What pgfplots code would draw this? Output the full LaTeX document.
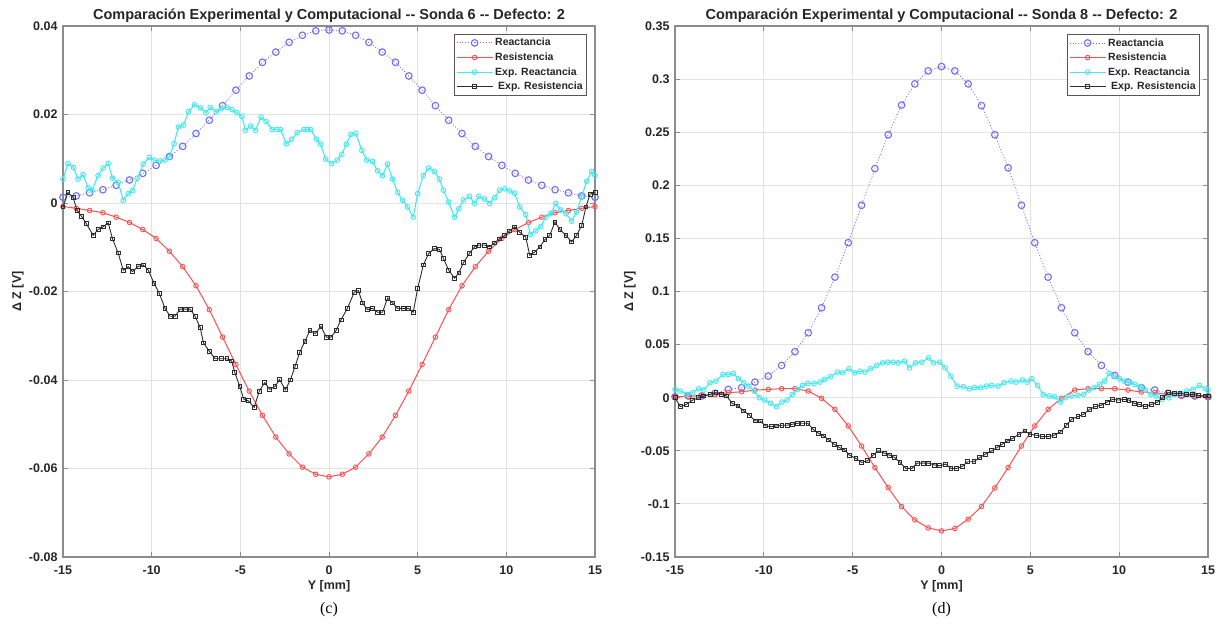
\documentclass[border=0pt]{standalone}
\usepackage{fontspec}
\setmainfont{Liberation Sans}
\newfontfamily\capfont{Liberation Serif}
\usepackage{pgfplots}
\pgfplotsset{compat=1.18}

\definecolor{creact}{RGB}{110,110,250}
\definecolor{cres}{RGB}{250,80,80}
\definecolor{cexpx}{RGB}{70,232,240}
\definecolor{cexpr}{RGB}{45,45,45}
\definecolor{cframe}{RGB}{140,140,140}
\definecolor{cgrid}{RGB}{226,226,226}
\definecolor{ctext}{RGB}{38,38,38}

\pgfplotsset{
  panel/.style={
    scale only axis, width=532pt, height=531pt, anchor=south west,
    clip mode=individual,
    xmin=-15, xmax=15, xtick={-15,-10,...,15},
    scaled y ticks=false,
    grid=major, major grid style={cgrid, line width=0.8pt},
    axis line style={cframe, line width=1.3pt},
    tick style={cframe, line width=0.8pt}, major tick length=5pt, tick align=inside,
    /pgf/number format/assume math mode=true,
    tick label style={font=\bfseries\fontsize{12.5}{15}\selectfont, text=ctext},
    xticklabel style={yshift=-5pt},
    yticklabel style={xshift=-2pt, /pgf/number format/fixed, /pgf/number format/precision=2},
    title style={at={(axis description cs:0.5,1)}, anchor=base, yshift=0pt,
      font=\bfseries\fontsize{14.5}{16}\selectfont, text=ctext},
    xlabel style={at={(axis description cs:0.5,0)}, anchor=center, yshift=-29pt,
      font=\bfseries\fontsize{12.5}{15}\selectfont, text=ctext},
    ylabel style={at={([xshift=-45pt]axis description cs:0,0.5)}, anchor=center,
      font=\bfseries\fontsize{12.5}{15}\selectfont, text=ctext},
    xlabel={Y [mm]}, ylabel={Δ Z [V]},
    legend style={at={(axis description cs:1,1)}, anchor=north east,
      xshift=-8pt, yshift=-8pt, draw=cexpr!80, line width=0.8pt, fill=white,
      font=\bfseries\fontsize{10.5}{12}\selectfont, text=ctext,
      inner sep=2pt, row sep=1.5pt, cells={anchor=west}},
    legend image code/.code={\draw[mark repeat=2,mark phase=2]
      plot coordinates {(0pt,0pt) (18pt,0pt) (36pt,0pt)};},
  },
  react/.style={creact, dotted, line width=0.9pt, mark=o, mark size=3.3pt,
    mark options={solid, line width=1.1pt}},
  res/.style={cres, solid, line width=1pt, mark=o, mark size=2.3pt,
    mark options={line width=0.9pt}},
  expx/.style={cexpx, solid, line width=1.1pt, mark=o, mark size=2.4pt,
    mark options={line width=0.9pt}},
  expr/.style={cexpr, solid, line width=0.9pt, mark=square, mark size=1.9pt,
    mark options={line width=0.8pt}},
}

\begin{document}
\begin{tikzpicture}
\path[use as bounding box] (0,0) rectangle (1219pt,627pt);

% ---------------- Sonda 6 ----------------
\begin{axis}[panel, at={(63pt,70pt)},
  ymin=-0.08, ymax=0.04, ytick={-0.08,-0.06,...,0.041},
  title={Comparación Experimental y Computacional -{}- Sonda 6 -{}- Defecto: 2}]
\addplot[react] coordinates {
(-15,0.0013)(-14.25,0.0016)(-13.5,0.0023)(-12.75,0.0030)(-12,0.0040)(-11.25,0.0052)
(-10.5,0.0067)(-9.75,0.0085)(-9,0.0105)(-8.25,0.0128)(-7.5,0.0157)(-6.75,0.0187)
(-6,0.0220)(-5.25,0.0255)(-4.5,0.0287)(-3.75,0.0318)(-3,0.0341)(-2.25,0.0363)
(-1.5,0.0379)(-0.75,0.0389)(0,0.0391)(0.75,0.0389)(1.5,0.0379)(2.25,0.0363)
(3,0.0341)(3.75,0.0318)(4.5,0.0287)(5.25,0.0255)(6,0.0220)(6.75,0.0187)
(7.5,0.0157)(8.25,0.0128)(9,0.0105)(9.75,0.0085)(10.5,0.0067)(11.25,0.0052)
(12,0.0040)(12.75,0.0030)(13.5,0.0023)(14.25,0.0016)(15,0.0013)};
\addlegendentry{Reactancia}
\addplot[res] coordinates {
(-15,-0.0008)(-14.25,-0.0012)(-13.5,-0.0017)(-12.75,-0.0022)(-12,-0.0032)(-11.25,-0.0044)
(-10.5,-0.0060)(-9.75,-0.0080)(-9,-0.0109)(-8.25,-0.0144)(-7.5,-0.0187)(-6.75,-0.0241)
(-6,-0.0303)(-5.25,-0.0365)(-4.5,-0.0425)(-3.75,-0.0480)(-3,-0.0529)(-2.25,-0.0567)
(-1.5,-0.0597)(-0.75,-0.0613)(0,-0.0619)(0.75,-0.0613)(1.5,-0.0597)(2.25,-0.0567)
(3,-0.0529)(3.75,-0.0480)(4.5,-0.0425)(5.25,-0.0365)(6,-0.0303)(6.75,-0.0241)
(7.5,-0.0187)(8.25,-0.0144)(9,-0.0109)(9.75,-0.0080)(10.5,-0.0060)(11.25,-0.0044)
(12,-0.0032)(12.75,-0.0022)(13.5,-0.0017)(14.25,-0.0012)(15,-0.0008)};
\addlegendentry{Resistencia}
\addplot[expx] coordinates {
(-15,0.0054)(-14.72,0.0089)(-14.40,0.0080)(-14.15,0.0054)(-13.87,0.0064)(-13.58,0.0034)
(-13.36,0.0029)(-13.02,0.0062)(-12.74,0.0079)(-12.45,0.0089)(-12.21,0.0056)(-11.89,0.0047)
(-11.60,0.0006)(-11.32,0.0021)(-11.08,0.0028)(-10.81,0.0056)(-10.47,0.0088)(-10.13,0.0103)
(-9.87,0.0097)(-9.53,0.0095)(-9.25,0.0097)(-9.0,0.0104)(-8.74,0.0134)(-8.49,0.0172)
(-8.21,0.0176)(-7.92,0.0206)(-7.58,0.0222)(-7.26,0.0215)(-6.94,0.0204)(-6.70,0.0216)
(-6.36,0.0206)(-6.08,0.0213)(-5.75,0.0216)(-5.47,0.0211)(-5.19,0.0204)(-4.91,0.0196)
(-4.72,0.0164)(-4.43,0.0174)(-4.15,0.0164)(-3.83,0.0194)(-3.55,0.0184)(-3.21,0.0166)
(-2.95,0.0166)(-2.74,0.0166)(-2.40,0.0134)(-2.11,0.0144)(-1.79,0.0159)(-1.42,0.0166)
(-1.22,0.0166)(-1.04,0.0166)(-0.70,0.0144)(-0.47,0.0133)(-0.19,0.0099)(0.15,0.0089)
(0.47,0.0097)(0.72,0.0110)(0.98,0.0133)(1.23,0.0155)(1.51,0.0157)(1.85,0.0119)
(2.13,0.0097)(2.45,0.0094)(2.74,0.0073)(3.02,0.0062)(3.30,0.0088)(3.58,0.0054)
(3.87,0.0024)(4.15,0.0006)(4.43,-0.0009)(4.75,-0.0032)(5.0,0.0021)(5.32,0.0062)
(5.62,0.0079)(5.94,0.0071)(6.23,0.0054)(6.45,0.0029)(6.75,0.0002)(7.08,-0.0032)
(7.32,-0.0013)(7.58,0.0007)(7.92,0.0015)(8.21,-0.0001)(8.45,0.0015)(8.77,0.0009)
(9.06,-0.0001)(9.34,0.0012)(9.62,0.0029)(9.91,0.0032)(10.19,0.0027)(10.47,0.0022)
(10.75,-0.0009)(11.09,-0.0026)(11.36,-0.0071)(11.66,-0.0063)(11.94,-0.0053)(12.23,-0.0032)
(12.49,-0.0024)(12.79,-0.0001)(13.06,-0.0016)(13.36,-0.0024)(13.68,-0.0041)(13.96,-0.0021)
(14.25,0.0015)(14.53,0.0049)(14.81,0.0071)(15,0.0062)};
\addlegendentry{Exp. Reactancia}
\addplot[expr] coordinates {
(-15,-0.0009)(-14.72,0.0024)(-14.43,0.0012)(-14.21,-0.0016)(-13.96,-0.0030)(-13.68,-0.0047)
(-13.30,-0.0073)(-13.02,-0.0060)(-12.74,-0.0054)(-12.45,-0.0045)(-12.21,-0.0081)(-11.89,-0.0113)
(-11.60,-0.0152)(-11.32,-0.0144)(-11.08,-0.0155)(-10.75,-0.0143)(-10.47,-0.0140)(-10.19,-0.0152)
(-9.87,-0.0181)(-9.57,-0.0204)(-9.25,-0.0238)(-8.96,-0.0256)(-8.68,-0.0256)(-8.40,-0.0240)
(-8.11,-0.0240)(-7.83,-0.0240)(-7.55,-0.0256)(-7.26,-0.0282)(-7.08,-0.0316)(-6.75,-0.0335)
(-6.42,-0.0352)(-6.09,-0.0352)(-5.76,-0.0352)(-5.49,-0.0357)(-5.32,-0.0382)(-5.03,-0.0415)
(-4.81,-0.0443)(-4.55,-0.0447)(-4.22,-0.0462)(-3.93,-0.0425)(-3.63,-0.0406)(-3.34,-0.0421)
(-3.05,-0.0415)(-2.79,-0.0399)(-2.46,-0.0422)(-2.18,-0.0400)(-1.91,-0.0369)(-1.65,-0.0337)
(-1.36,-0.0313)(-1.08,-0.0288)(-0.77,-0.0295)(-0.46,-0.0279)(-0.15,-0.0303)(0.11,-0.0303)
(0.40,-0.0288)(0.68,-0.0264)(1.04,-0.0238)(1.42,-0.0202)(1.66,-0.0198)(1.89,-0.0226)
(2.17,-0.0241)(2.45,-0.0238)(2.74,-0.0247)(3.02,-0.0247)(3.30,-0.0215)(3.58,-0.0226)
(3.87,-0.0238)(4.19,-0.0238)(4.49,-0.0238)(4.75,-0.0247)(5.0,-0.0193)(5.32,-0.0140)
(5.62,-0.0114)(5.94,-0.0103)(6.23,-0.0105)(6.45,-0.0125)(6.75,-0.0152)(7.08,-0.0170)
(7.32,-0.0158)(7.58,-0.0135)(7.92,-0.0114)(8.21,-0.0099)(8.45,-0.0095)(8.77,-0.0095)
(9.06,-0.0099)(9.34,-0.0090)(9.62,-0.0081)(9.91,-0.0073)(10.19,-0.0063)(10.47,-0.0054)
(10.75,-0.0066)(11.09,-0.0077)(11.32,-0.0118)(11.60,-0.0111)(11.89,-0.0099)(12.17,-0.0083)
(12.45,-0.0073)(12.74,-0.0043)(13.02,-0.0060)(13.36,-0.0073)(13.68,-0.0088)(13.96,-0.0073)
(14.25,-0.0051)(14.49,-0.0009)(14.72,0.0020)(15,0.0024)};
\addlegendentry{\hspace{3pt}Exp. Resistencia}
\node[font=\capfont\fontsize{16}{18}\selectfont, text=black]
  at (axis description cs:0.5,0) [yshift=-53pt] {(c)};
\end{axis}

% ---------------- Sonda 8 ----------------
\begin{axis}[panel, at={(675pt,70pt)}, width=533pt,
  ymin=-0.15, ymax=0.35, ytick={-0.15,-0.1,...,0.351},
  title={Comparación Experimental y Computacional -{}- Sonda 8 -{}- Defecto: 2}]
\addplot[react] coordinates {
(-15,0.0009)(-14.25,0.0016)(-13.5,0.0016)(-12.75,0.0041)(-12,0.0078)(-11.25,0.0094)
(-10.5,0.0147)(-9.75,0.0204)(-9,0.0304)(-8.25,0.0433)(-7.5,0.0611)(-6.75,0.0847)
(-6,0.1135)(-5.25,0.1459)(-4.5,0.1812)(-3.75,0.2157)(-3,0.2476)(-2.25,0.2755)
(-1.5,0.2955)(-0.75,0.3077)(0,0.3118)(0.75,0.3077)(1.5,0.2955)(2.25,0.2750)
(3,0.2476)(3.75,0.2165)(4.5,0.1812)(5.25,0.1459)(6,0.1135)(6.75,0.0847)
(7.5,0.0611)(8.25,0.0433)(9,0.0304)(9.75,0.0210)(10.5,0.0147)(11.25,0.0094)
(12,0.0072)(12.75,0.0041)(13.5,0.0022)(14.25,0.0016)(15,0.0009)};
\addlegendentry{Reactancia}
\addplot[res] coordinates {
(-15,0.0009)(-14.25,0.0012)(-13.5,0.0020)(-12.75,0.0030)(-12,0.0047)(-11.25,0.0056)
(-10.5,0.0072)(-9.75,0.0078)(-9,0.0085)(-8.25,0.0085)(-7.5,0.0063)(-6.75,-0.0006)
(-6,-0.0110)(-5.25,-0.0266)(-4.5,-0.0455)(-3.75,-0.0658)(-3,-0.0846)(-2.25,-0.1025)
(-1.5,-0.1151)(-0.75,-0.1226)(0,-0.1254)(0.75,-0.1232)(1.5,-0.1144)(2.25,-0.1025)
(3,-0.0850)(3.75,-0.0658)(4.5,-0.0455)(5.25,-0.0266)(6,-0.0110)(6.75,-0.0006)
(7.5,0.0072)(8.25,0.0085)(9,0.0085)(9.75,0.0085)(10.5,0.0072)(11.25,0.0053)
(12,0.0047)(12.75,0.0030)(13.5,0.0020)(14.25,0.0016)(15,0.0009)};
\addlegendentry{Resistencia}
\addplot[expx] coordinates {
(-15,0.0078)(-14.70,0.0063)(-14.36,0.0031)(-14.00,0.0047)(-13.67,0.0084)(-13.38,0.0072)
(-13.03,0.0141)(-12.70,0.0156)(-12.30,0.0219)(-12.00,0.0219)(-11.72,0.0228)(-11.43,0.0178)
(-11.13,0.0141)(-10.84,0.0109)(-10.55,0.0063)(-10.25,0.0000)(-9.96,-0.0022)(-9.63,-0.0053)
(-9.28,-0.0084)(-8.98,-0.0041)(-8.69,-0.0022)(-8.40,0.0031)(-8.10,0.0078)(-7.81,0.0116)
(-7.52,0.0134)(-7.17,0.0134)(-6.84,0.0147)(-6.58,0.0172)(-6.25,0.0197)(-5.86,0.0241)
(-5.57,0.0234)(-5.21,0.0272)(-4.88,0.0234)(-4.59,0.0250)(-4.30,0.0241)(-4.00,0.0272)
(-3.65,0.0303)(-3.32,0.0328)(-3.03,0.0334)(-2.73,0.0334)(-2.44,0.0328)(-2.09,0.0344)
(-1.80,0.0281)(-1.46,0.0328)(-1.11,0.0334)(-0.72,0.0375)(-0.45,0.0328)(-0.10,0.0334)
(0.20,0.0281)(0.53,0.0203)(0.88,0.0109)(1.23,0.0103)(1.56,0.0084)(1.86,0.0094)
(2.20,0.0094)(2.54,0.0109)(2.83,0.0116)(3.18,0.0109)(3.52,0.0141)(3.91,0.0156)
(4.20,0.0147)(4.55,0.0166)(4.82,0.0147)(5.08,0.0178)(5.41,0.0116)(5.72,0.0031)
(6.05,0.0016)(6.35,0.0009)(6.70,-0.0041)(6.97,0.0000)(7.32,0.0016)(7.68,0.0022)
(8.00,0.0031)(8.30,0.0072)(8.59,0.0094)(8.89,0.0125)(9.18,0.0156)(9.43,0.0228)
(9.70,0.0203)(10.02,0.0178)(10.29,0.0156)(10.60,0.0147)(10.88,0.0125)(11.19,0.0103)
(11.46,0.0072)(11.78,0.0031)(12.11,0.0016)(12.40,-0.0016)(12.79,0.0000)(13.14,0.0031)
(13.48,0.0041)(13.81,0.0063)(14.16,0.0078)(14.51,0.0116)(14.84,0.0084)(15,0.0072)};
\addlegendentry{Exp. Reactancia}
\addplot[expr] coordinates {
(-15,0.0000)(-14.70,-0.0084)(-14.36,-0.0063)(-14.00,-0.0022)(-13.67,0.0000)(-13.38,0.0016)
(-13.03,0.0031)(-12.70,0.0047)(-12.40,0.0031)(-12.10,0.0016)(-11.78,-0.0053)(-11.46,-0.0078)
(-11.13,-0.0125)(-10.80,-0.0166)(-10.49,-0.0219)(-10.21,-0.0219)(-9.90,-0.0266)(-9.57,-0.0272)
(-9.28,-0.0266)(-8.98,-0.0259)(-8.69,-0.0259)(-8.40,-0.0250)(-8.10,-0.0241)(-7.81,-0.0241)
(-7.52,-0.0241)(-7.23,-0.0297)(-6.93,-0.0334)(-6.64,-0.0359)(-6.35,-0.0397)(-6.05,-0.0438)
(-5.76,-0.0469)(-5.47,-0.0491)(-5.18,-0.0541)(-4.82,-0.0572)(-4.49,-0.0609)(-4.16,-0.0594)
(-3.85,-0.0541)(-3.55,-0.0500)(-3.22,-0.0522)(-2.93,-0.0541)(-2.64,-0.0563)(-2.34,-0.0609)
(-2.01,-0.0666)(-1.66,-0.0666)(-1.37,-0.0616)(-1.04,-0.0616)(-0.72,-0.0616)(-0.39,-0.0634)
(-0.10,-0.0641)(0.23,-0.0625)(0.53,-0.0666)(0.84,-0.0666)(1.17,-0.0647)(1.46,-0.0603)
(1.82,-0.0603)(2.15,-0.0563)(2.48,-0.0531)(2.83,-0.0500)(3.13,-0.0469)(3.42,-0.0438)
(3.71,-0.0406)(4.00,-0.0384)(4.36,-0.0344)(4.69,-0.0313)(4.98,-0.0344)(5.33,-0.0353)
(5.66,-0.0366)(6.00,-0.0366)(6.35,-0.0353)(6.70,-0.0322)(7.03,-0.0259)(7.32,-0.0203)
(7.68,-0.0178)(8.00,-0.0156)(8.34,-0.0109)(8.65,-0.0084)(8.98,-0.0072)(9.32,-0.0041)
(9.63,-0.0016)(9.96,-0.0022)(10.29,-0.0016)(10.55,-0.0022)(10.84,-0.0053)(11.13,-0.0063)
(11.46,-0.0084)(11.82,-0.0063)(12.17,-0.0041)(12.44,0.0000)(12.75,0.0047)(13.09,0.0041)
(13.42,0.0041)(13.77,0.0031)(14.12,0.0031)(14.45,0.0022)(14.84,0.0016)(15,0.0016)};
\addlegendentry{\hspace{3pt}Exp. Resistencia}
\node[font=\capfont\fontsize{16}{18}\selectfont, text=black]
  at (axis description cs:0.5,0) [yshift=-53pt] {(d)};
\end{axis}
\end{tikzpicture}
\end{document}
